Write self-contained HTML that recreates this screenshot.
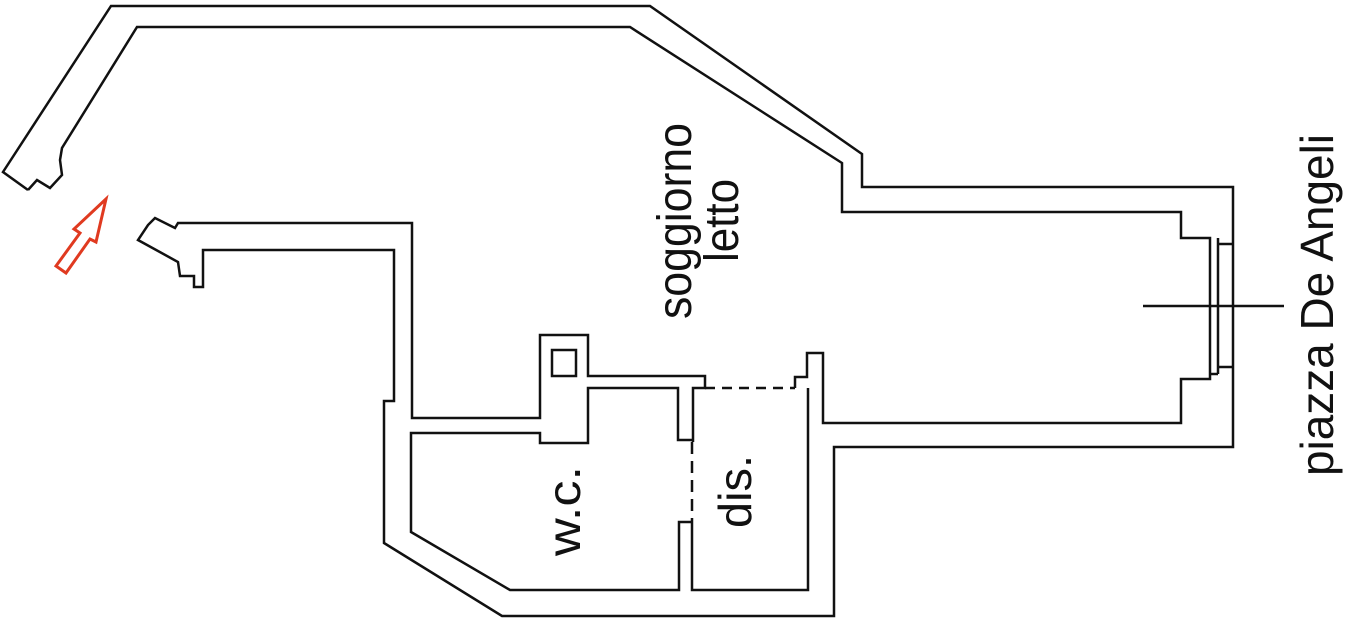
<!DOCTYPE html>
<html><head><meta charset="utf-8"><style>html,body{margin:0;padding:0;background:#fff}svg{display:block}</style></head>
<body>
<svg width="1349" height="622" viewBox="0 0 1349 622" xmlns="http://www.w3.org/2000/svg">
<g fill="none" stroke="#111" stroke-width="2.5">
<!-- outer top wall -->
<polyline points="28,190 3,172 111,6 650,6 862,154 862,187 1233,187 1233,447 834,447 834,616 502,616 384,543 384,401 394,401 394,250 203,250 203,287 194,287 194,276 180,276 178,262 138,240 148,225 155,218 175,228 178,223 412,223 412,418 540,418 540,335 588,335 588,376 705,376 705,388 693,388 693,442"/>
<polyline points="28,190 37,180 50,188 62,175 60,160 62,148 137,27 630,27 842,163 842,212 1181,212 1181,238 1210,238 1210,379 1181,379 1181,423 823,423 823,353 807,353 807,377 795,377 795,388"/>
<line x1="1218" y1="238" x2="1218" y2="374"/>
<line x1="1210" y1="374" x2="1218" y2="374"/>
<line x1="1218" y1="244" x2="1233" y2="244"/>
<line x1="1218" y1="367" x2="1233" y2="367"/>
<line x1="1143" y1="306" x2="1284" y2="306"/>
<rect x="552" y="350" width="24" height="26"/>
<!-- wc / dis -->
<polyline points="692,522 679,522 679,590 510,590 411,532 411,433 540,433 540,443 588,443 588,388 678,388 678,440 692,440"/>
<polyline points="692,522 692,590 808,590 808,388"/>
<line x1="705" y1="388" x2="795" y2="388" stroke-dasharray="10,7"/>
<line x1="692" y1="442" x2="692" y2="522" stroke-dasharray="12,7"/>
</g>
<polygon points="106,199 74,229 80,233 56,266 66,273 90,239 96,242" fill="none" stroke="#e03a20" stroke-width="3"/>
<g font-family="Liberation Sans, Arial, sans-serif" fill="#111">
<text transform="translate(691,319) rotate(-90)" font-size="48" textLength="196" lengthAdjust="spacingAndGlyphs">soggiorno</text>
<text transform="translate(738,262) rotate(-90)" font-size="48" textLength="83" lengthAdjust="spacingAndGlyphs">letto</text>
<text transform="translate(1333,476) rotate(-90)" font-size="46" textLength="342" lengthAdjust="spacingAndGlyphs">piazza De Angeli</text>
<text transform="translate(580,556) rotate(-90)" font-size="46" textLength="90" lengthAdjust="spacingAndGlyphs">w.c.</text>
<text transform="translate(751,528) rotate(-90)" font-size="46" textLength="73" lengthAdjust="spacingAndGlyphs">dis.</text>
</g>
</svg>
</body></html>
